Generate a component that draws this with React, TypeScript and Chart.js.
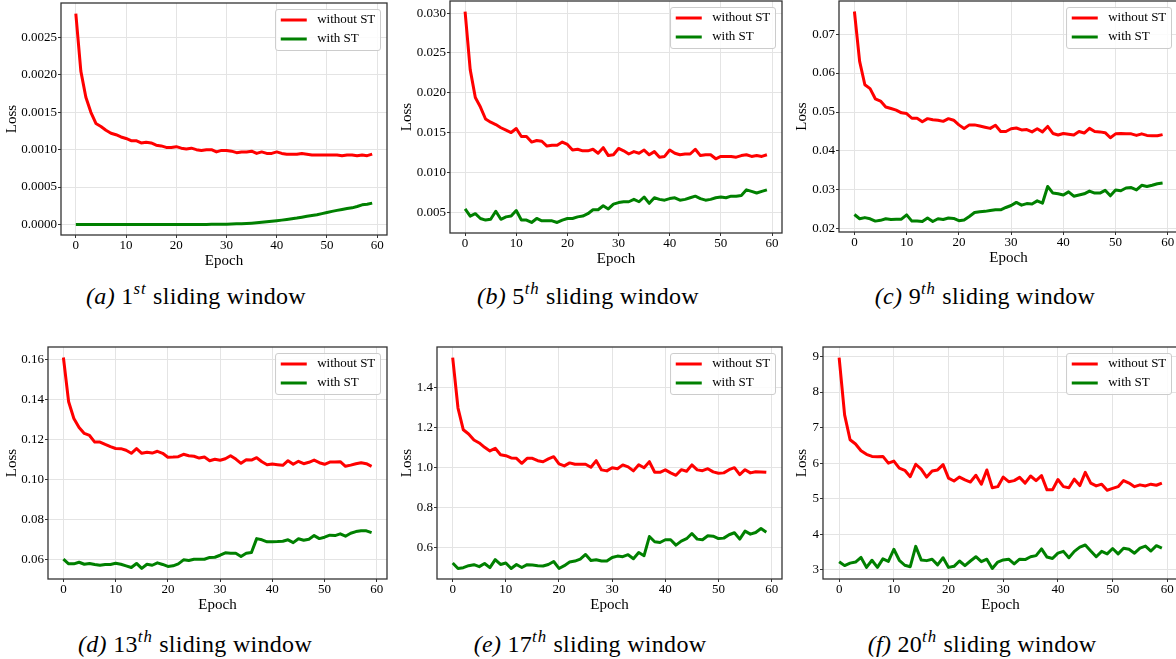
import React, { useEffect, useRef } from "react";
import { Chart, registerables } from "chart.js";

Chart.register(...registerables);

const FONT = "'Liberation Serif', 'Times New Roman', Times, serif";
Chart.defaults.font.family = FONT;
Chart.defaults.color = "#000";

const RED = "#ff0000";
const GREEN = "#008000";
const GRID = "#e4e4e4";
const SPINE = "#333333";

// epoch index shared by every panel
const epochs = Array.from({ length: 60 }, (_, i) => i);
const xTicks = [0, 10, 20, 30, 40, 50, 60];
const xTickLabels = ["0", "10", "20", "30", "40", "50", "60"];
const seriesNames = ["without ST", "with ST"];

// (a) 1st sliding window
const lossA_without = [
  0.00282, 0.00205, 0.0017, 0.0015, 0.00135, 0.00131, 0.00126, 0.00122, 0.0012, 0.00117,
  0.00115, 0.00112, 0.00112, 0.00109, 0.0011, 0.00109, 0.00106, 0.00105, 0.00103, 0.00103,
  0.00104, 0.00102, 0.00101, 0.00102, 0.001, 0.00099, 0.001, 0.001, 0.00097, 0.00099,
  0.00099, 0.00098, 0.00096, 0.00097, 0.00097, 0.00098, 0.00095, 0.00097, 0.00095, 0.00095,
  0.00097, 0.00095, 0.00094, 0.00094, 0.00094, 0.00095, 0.00094, 0.00093, 0.00093, 0.00093,
  0.00093, 0.00093, 0.00093, 0.00092, 0.00093, 0.00093, 0.00092, 0.00093, 0.00092, 0.00094,
];
const lossA_with = [
  0, 0, 0, 0, 0, 0, 0, 0, 0, 0,
  0, 0, 0, 0, 0, 0, 0, 0, 0, 0,
  0, 0, 0, 0, 0, 0.000001, 0.000001, 0.000002, 0.000002, 0.000003,
  0.000004, 0.000006, 0.000008, 0.00001, 0.000013, 0.000017, 0.000022, 0.000028, 0.000035, 0.000043,
  0.00005, 0.000058, 0.000066, 0.000075, 0.000085, 0.000097, 0.00011, 0.00012, 0.00013, 0.000145,
  0.00016, 0.000175, 0.000188, 0.0002, 0.000212, 0.000222, 0.00024, 0.000262, 0.00027, 0.000285,
];
const ticksA = [0, 0.0005, 0.001, 0.0015, 0.002, 0.0025];
const tickLabelsA = ["0.0000", "0.0005", "0.0010", "0.0015", "0.0020", "0.0025"];

// (b) 5th sliding window
const lossB_without = [
  0.0302, 0.0229, 0.0194, 0.0182, 0.0167, 0.0163, 0.016, 0.0156, 0.0153, 0.015,
  0.0155, 0.0145, 0.0145, 0.0138, 0.014, 0.0139, 0.0133, 0.0134, 0.0134, 0.0138,
  0.0135, 0.0128, 0.0129, 0.0127, 0.0127, 0.0129, 0.0124, 0.0131, 0.0121, 0.0122,
  0.013, 0.0127, 0.0123, 0.0126, 0.0124, 0.0128, 0.0122, 0.0126, 0.0119, 0.012,
  0.0128, 0.0124, 0.0122, 0.0123, 0.0123, 0.0129, 0.0121, 0.0122, 0.0122, 0.0117,
  0.012, 0.012, 0.012, 0.0119, 0.0121, 0.0122, 0.012, 0.0121, 0.012, 0.0122,
];
const lossB_with = [
  0.0054, 0.0045, 0.0048, 0.0042, 0.004, 0.0041, 0.0051, 0.0041, 0.0044, 0.0045,
  0.0052, 0.004, 0.004, 0.0037, 0.0042, 0.0039, 0.0039, 0.0039, 0.0037, 0.004,
  0.0042, 0.0042, 0.0044, 0.0045, 0.0048, 0.0053, 0.0053, 0.0058, 0.0054, 0.006,
  0.0062, 0.0063, 0.0063, 0.0066, 0.0063, 0.0069, 0.0061, 0.0068, 0.0066, 0.0065,
  0.0067, 0.0068, 0.0065, 0.0066, 0.0068, 0.007, 0.0067, 0.0065, 0.0066, 0.0068,
  0.0069, 0.0068, 0.007, 0.007, 0.0071, 0.0078, 0.0076, 0.0074, 0.0076, 0.0078,
];
const ticksB = [0.005, 0.01, 0.015, 0.02, 0.025, 0.03];
const tickLabelsB = ["0.005", "0.010", "0.015", "0.020", "0.025", "0.030"];

// (c) 9th sliding window
const lossC_without = [
  0.0758, 0.063, 0.057, 0.056, 0.0534, 0.0528, 0.0513, 0.0509, 0.0505, 0.0498,
  0.0496, 0.0484, 0.0484, 0.0475, 0.0483, 0.048, 0.0479, 0.0476, 0.0483, 0.0479,
  0.0467, 0.0458, 0.0467, 0.0467, 0.0464, 0.0461, 0.0458, 0.0466, 0.045, 0.045,
  0.0457, 0.0459, 0.0454, 0.0455, 0.0449, 0.0457, 0.0449, 0.0463, 0.0445, 0.0441,
  0.0445, 0.0443, 0.0441, 0.045, 0.0446, 0.0458, 0.045, 0.0449, 0.0447, 0.0434,
  0.0444, 0.0445, 0.0444, 0.0444, 0.044, 0.0444, 0.044, 0.0439, 0.0439, 0.0442,
];
const lossC_with = [
  0.0237, 0.0226, 0.0229, 0.0226, 0.022, 0.0222, 0.0226, 0.0224, 0.0225, 0.0225,
  0.0236, 0.022, 0.022, 0.0219, 0.0228, 0.0219, 0.0226, 0.0224, 0.0228, 0.0227,
  0.0221, 0.0223, 0.0232, 0.0242, 0.0244, 0.0245, 0.0247, 0.0249, 0.0249, 0.0255,
  0.026, 0.0268, 0.0261, 0.0265, 0.0264, 0.0272, 0.0266, 0.0309, 0.0292, 0.029,
  0.0287, 0.0295, 0.0284, 0.0287, 0.029, 0.0297, 0.0292, 0.0292, 0.0299, 0.0285,
  0.03, 0.0298, 0.0305, 0.0306, 0.03, 0.0312, 0.0309, 0.0312, 0.0316, 0.0318,
];
const ticksC = [0.02, 0.03, 0.04, 0.05, 0.06, 0.07];
const tickLabelsC = ["0.02", "0.03", "0.04", "0.05", "0.06", "0.07"];

// (d) 13th sliding window
const lossD_without = [
  0.161, 0.1389, 0.1306, 0.1261, 0.1231, 0.1221, 0.1188, 0.1188, 0.1176, 0.1165,
  0.1156, 0.1155, 0.1147, 0.1132, 0.1155, 0.1132, 0.1137, 0.1133, 0.1142, 0.1132,
  0.1112, 0.1113, 0.1115, 0.1127, 0.112, 0.1117, 0.1108, 0.1113, 0.1095, 0.1102,
  0.1097, 0.1105, 0.112, 0.1103, 0.1082, 0.11, 0.1098, 0.111, 0.109, 0.1075,
  0.1078, 0.1075, 0.1072, 0.1095, 0.1077, 0.1092, 0.108, 0.1087, 0.1098, 0.1085,
  0.1077, 0.1088, 0.1088, 0.109, 0.1067, 0.1073, 0.108, 0.1085, 0.108, 0.1067,
];
const lossD_with = [
  0.0603, 0.058, 0.058, 0.0588, 0.0578, 0.0582, 0.0577, 0.0573, 0.0577, 0.0577,
  0.0583, 0.0578, 0.057, 0.0562, 0.0582, 0.0557, 0.0578, 0.0573, 0.0585, 0.0577,
  0.0567, 0.057, 0.058, 0.06, 0.0597, 0.0603, 0.0603, 0.0603, 0.0612, 0.0613,
  0.0623, 0.0635, 0.0633, 0.0633, 0.0617, 0.0633, 0.0637, 0.0706, 0.07, 0.069,
  0.069, 0.0691, 0.0693, 0.07, 0.0686, 0.0705, 0.0698, 0.0703, 0.0721, 0.0706,
  0.0713, 0.0723, 0.0721, 0.073, 0.0718, 0.0733, 0.0741, 0.0745, 0.0745, 0.0736,
];
const ticksD = [0.06, 0.08, 0.1, 0.12, 0.14, 0.16];
const tickLabelsD = ["0.06", "0.08", "0.10", "0.12", "0.14", "0.16"];

// (e) 17th sliding window
const lossE_without = [
  1.55, 1.297, 1.188, 1.167, 1.137, 1.122, 1.1, 1.082, 1.095, 1.063,
  1.058, 1.047, 1.045, 1.02, 1.045, 1.045, 1.033, 1.028, 1.042, 1.053,
  1.017, 1.007, 1.022, 1.015, 1.015, 1.015, 1.0, 1.033, 0.987, 0.982,
  0.998, 0.993, 1.012, 1.002, 0.982, 1.013, 0.998, 1.028, 0.975, 0.975,
  0.987, 0.972, 0.96, 0.988, 0.98, 1.012, 0.987, 0.983, 0.993, 0.977,
  0.97, 0.972, 0.988, 0.998, 0.963, 0.988, 0.972, 0.978, 0.977, 0.975,
];
const lossE_with = [
  0.52, 0.493, 0.497, 0.507, 0.512, 0.502, 0.518, 0.497, 0.537, 0.513,
  0.52, 0.493, 0.513, 0.498, 0.512, 0.51, 0.507, 0.505, 0.513, 0.528,
  0.493, 0.507, 0.525, 0.53, 0.54, 0.563, 0.533, 0.537, 0.53, 0.53,
  0.548, 0.555, 0.552, 0.562, 0.542, 0.573, 0.557, 0.653, 0.627, 0.623,
  0.637, 0.637, 0.61, 0.63, 0.642, 0.668, 0.64, 0.637, 0.657, 0.655,
  0.643, 0.645, 0.662, 0.672, 0.64, 0.68, 0.665, 0.673, 0.693, 0.675,
];
const ticksE = [0.6, 0.8, 1.0, 1.2, 1.4];
const tickLabelsE = ["0.6", "0.8", "1.0", "1.2", "1.4"];

// (f) 20th sliding window
const lossF_without = [
  8.97, 7.36, 6.66, 6.54, 6.35, 6.25, 6.19, 6.18, 6.19, 6.0,
  6.06, 5.86, 5.8, 5.62, 5.97, 5.83, 5.61, 5.78, 5.81, 5.96,
  5.58, 5.5, 5.61, 5.53, 5.47, 5.66, 5.41, 5.81, 5.31, 5.34,
  5.61, 5.48, 5.51, 5.6, 5.44, 5.64, 5.51, 5.65, 5.25, 5.25,
  5.54, 5.34, 5.31, 5.55, 5.37, 5.74, 5.44, 5.36, 5.41, 5.24,
  5.29, 5.34, 5.51, 5.44, 5.34, 5.39, 5.36, 5.41, 5.38, 5.44,
];
const lossF_with = [
  3.23, 3.12, 3.19, 3.22, 3.35, 3.07, 3.27, 3.07, 3.31, 3.24,
  3.58, 3.27, 3.13, 3.09, 3.66, 3.28, 3.26, 3.3, 3.14, 3.34,
  3.07, 3.1, 3.25, 3.12, 3.25, 3.37, 3.23, 3.3, 3.04, 3.22,
  3.28, 3.3, 3.17, 3.3, 3.29, 3.37, 3.4, 3.59, 3.36, 3.32,
  3.47, 3.52, 3.34, 3.52, 3.64, 3.7, 3.53, 3.37, 3.52, 3.45,
  3.6, 3.45, 3.61, 3.58, 3.47, 3.61, 3.67, 3.53, 3.68, 3.61,
];
const ticksF = [3, 4, 5, 6, 7, 8, 9];
const tickLabelsF = ["3", "4", "5", "6", "7", "8", "9"];

// caption parts
const captionTags = ["a", "b", "c", "d", "e", "f"];
const windowNumbers = ["1", "5", "9", "13", "17", "20"];
const ordinalSuffixes = ["st", "th", "th", "th", "th", "th"];

type PanelData = {
  without: number[];
  withSt: number[];
  ticks: number[];
  tickLabels: string[];
};

const panels: PanelData[] = [
  { without: lossA_without, withSt: lossA_with, ticks: ticksA, tickLabels: tickLabelsA },
  { without: lossB_without, withSt: lossB_with, ticks: ticksB, tickLabels: tickLabelsB },
  { without: lossC_without, withSt: lossC_with, ticks: ticksC, tickLabels: tickLabelsC },
  { without: lossD_without, withSt: lossD_with, ticks: ticksD, tickLabels: tickLabelsD },
  { without: lossE_without, withSt: lossE_with, ticks: ticksE, tickLabels: tickLabelsE },
  { without: lossF_without, withSt: lossF_with, ticks: ticksF, tickLabels: tickLabelsF },
];

// page geometry of each subplot: canvas origin and plot-area edges
type Frame = { left: number; top: number; plotL: number; plotR: number; plotT: number; plotB: number };
const frames: Frame[] = [
  { left: 0, top: 0, plotL: 61, plotR: 387, plotT: 3, plotB: 235 },
  { left: 395, top: 0, plotL: 450, plotR: 782, plotT: 1, plotB: 233 },
  { left: 790, top: 0, plotL: 839, plotR: 1178, plotT: 1, plotB: 232 },
  { left: 0, top: 340, plotL: 48, plotR: 387, plotT: 347, plotB: 579 },
  { left: 395, top: 340, plotL: 437, plotR: 782, plotT: 347, plotB: 579 },
  { left: 790, top: 340, plotL: 823, plotR: 1178, plotT: 347, plotB: 579 },
];
const captionCenters = [196, 588, 985, 195, 590, 982];
const captionBaselines = [304, 304, 304, 652, 652, 652];
const X_AXIS_H = 35;

// axes frame + matplotlib-style legend in the upper right corner
const decorPlugin = {
  id: "decor",
  afterDraw(chart: any) {
    const ctx = chart.ctx as CanvasRenderingContext2D;
    const ca = chart.chartArea;
    ctx.save();
    ctx.strokeStyle = SPINE;
    ctx.lineWidth = 1.3;
    ctx.strokeRect(ca.left, ca.top, ca.right - ca.left, ca.bottom - ca.top);

    const fs = 13;
    ctx.font = `${fs}px ${FONT}`;
    const labels: string[] = chart.data.datasets.map((d: any) => d.label);
    const colors: string[] = chart.data.datasets.map((d: any) => d.borderColor);
    const tw = Math.max(...labels.map((l) => ctx.measureText(l).width));
    const pad = 0.4 * fs;
    const handle = 2 * fs;
    const gap = 0.8 * fs;
    const boxW = pad + handle + gap + tw + pad;
    const boxH = 41;
    const x0 = ca.right - 6.5 - boxW;
    const y0 = ca.top + 6.5;
    ctx.beginPath();
    if ((ctx as any).roundRect) (ctx as any).roundRect(x0, y0, boxW, boxH, 2.5);
    else ctx.rect(x0, y0, boxW, boxH);
    ctx.fillStyle = "rgba(255,255,255,0.85)";
    ctx.fill();
    ctx.strokeStyle = "#cccccc";
    ctx.lineWidth = 1;
    ctx.stroke();
    labels.forEach((label, i) => {
      const cy = y0 + 10.5 + i * 19;
      ctx.beginPath();
      ctx.strokeStyle = colors[i];
      ctx.lineWidth = 3;
      ctx.moveTo(x0 + pad, cy);
      ctx.lineTo(x0 + pad + handle, cy);
      ctx.stroke();
      ctx.fillStyle = "#000";
      ctx.textBaseline = "middle";
      ctx.textAlign = "left";
      ctx.fillText(label, x0 + pad + handle + gap, cy);
    });
    ctx.restore();
  },
};

function LossPanel({ panel, frame }: { panel: PanelData; frame: Frame }) {
  const ref = useRef<HTMLCanvasElement>(null);
  const width = frame.plotR - frame.left + 2;
  const height = frame.plotB - frame.top + X_AXIS_H;

  useEffect(() => {
    const all = [...panel.without, ...panel.withSt];
    const lo = Math.min(...all);
    const hi = Math.max(...all);
    const margin = (hi - lo) * 0.05;
    const chart = new Chart(ref.current as HTMLCanvasElement, {
      type: "line",
      data: {
        datasets: [
          {
            label: seriesNames[0],
            data: epochs.map((e, i) => ({ x: e, y: panel.without[i] })),
            borderColor: RED,
            backgroundColor: RED,
            borderWidth: 3,
            pointRadius: 0,
            tension: 0,
            fill: false,
            borderJoinStyle: "round",
          },
          {
            label: seriesNames[1],
            data: epochs.map((e, i) => ({ x: e, y: panel.withSt[i] })),
            borderColor: GREEN,
            backgroundColor: GREEN,
            borderWidth: 3,
            pointRadius: 0,
            tension: 0,
            fill: false,
            borderJoinStyle: "round",
          },
        ],
      },
      options: {
        responsive: false,
        animation: false,
        events: [],
        layout: { padding: { left: 0, top: frame.plotT - frame.top, right: 2, bottom: 0 } },
        plugins: { legend: { display: false }, tooltip: { enabled: false } },
        scales: {
          x: {
            type: "linear",
            min: -2.95,
            max: 61.95,
            afterBuildTicks: (s: any) => {
              s.ticks = xTicks.map((v) => ({ value: v }));
            },
            afterFit: (s: any) => {
              s.height = X_AXIS_H;
              s.paddingLeft = 0;
              s.paddingRight = 0;
            },
            ticks: {
              callback: (_v: any, i: number) => xTickLabels[i],
              padding: 0,
              maxRotation: 0,
              autoSkip: false,
              color: "#000",
              font: { size: 13 },
            },
            grid: { color: GRID, tickColor: SPINE, tickLength: 3, lineWidth: 1 },
            border: { display: false },
            title: { display: true, text: "Epoch", color: "#000", font: { size: 15 }, padding: 0 },
          },
          y: {
            type: "linear",
            min: lo - margin,
            max: hi + margin,
            afterBuildTicks: (s: any) => {
              s.ticks = panel.ticks.map((v) => ({ value: v }));
            },
            afterFit: (s: any) => {
              s.width = frame.plotL - frame.left;
              s.paddingTop = 0;
              s.paddingBottom = 0;
            },
            ticks: {
              callback: (_v: any, i: number) => panel.tickLabels[i],
              padding: 1,
              autoSkip: false,
              color: "#000",
              font: { size: 13 },
            },
            grid: { color: GRID, tickColor: SPINE, tickLength: 3, lineWidth: 1 },
            border: { display: false },
            title: {
              display: true,
              text: "Loss",
              color: "#000",
              font: { size: 15 },
              padding: { top: 3, bottom: 0 },
            },
          },
        },
      } as any,
      plugins: [decorPlugin],
    });
    return () => chart.destroy();
  }, [panel, frame]);

  return (
    <canvas
      ref={ref}
      width={width}
      height={height}
      style={{ position: "absolute", left: frame.left, top: frame.top, width, height }}
    />
  );
}

function Caption({ index }: { index: number }) {
  const size = 24;
  return (
    <div
      style={{
        position: "absolute",
        left: captionCenters[index] - 160,
        top: captionBaselines[index] - size * 0.84,
        width: 320,
        textAlign: "center",
        fontFamily: FONT,
        fontSize: size,
        lineHeight: 1,
        letterSpacing: "0.3px",
        color: "#000",
        whiteSpace: "nowrap",
      }}
    >
      <span style={{ fontStyle: "italic" }}>({captionTags[index]})</span> {windowNumbers[index]}
      <span
        style={{
          fontStyle: "italic",
          fontSize: "0.7em",
          letterSpacing: "1px",
          position: "relative",
          top: "-0.6em",
        }}
      >
        {ordinalSuffixes[index]}
      </span>{" "}
      sliding window
    </div>
  );
}

export default function App() {
  return (
    <div
      style={{
        position: "fixed",
        left: 0,
        top: 0,
        width: 1176,
        height: 659,
        overflow: "hidden",
        background: "#ffffff",
      }}
    >
      {panels.map((p, i) => (
        <LossPanel key={i} panel={p} frame={frames[i]} />
      ))}
      {panels.map((_, i) => (
        <Caption key={"c" + i} index={i} />
      ))}
    </div>
  );
}
